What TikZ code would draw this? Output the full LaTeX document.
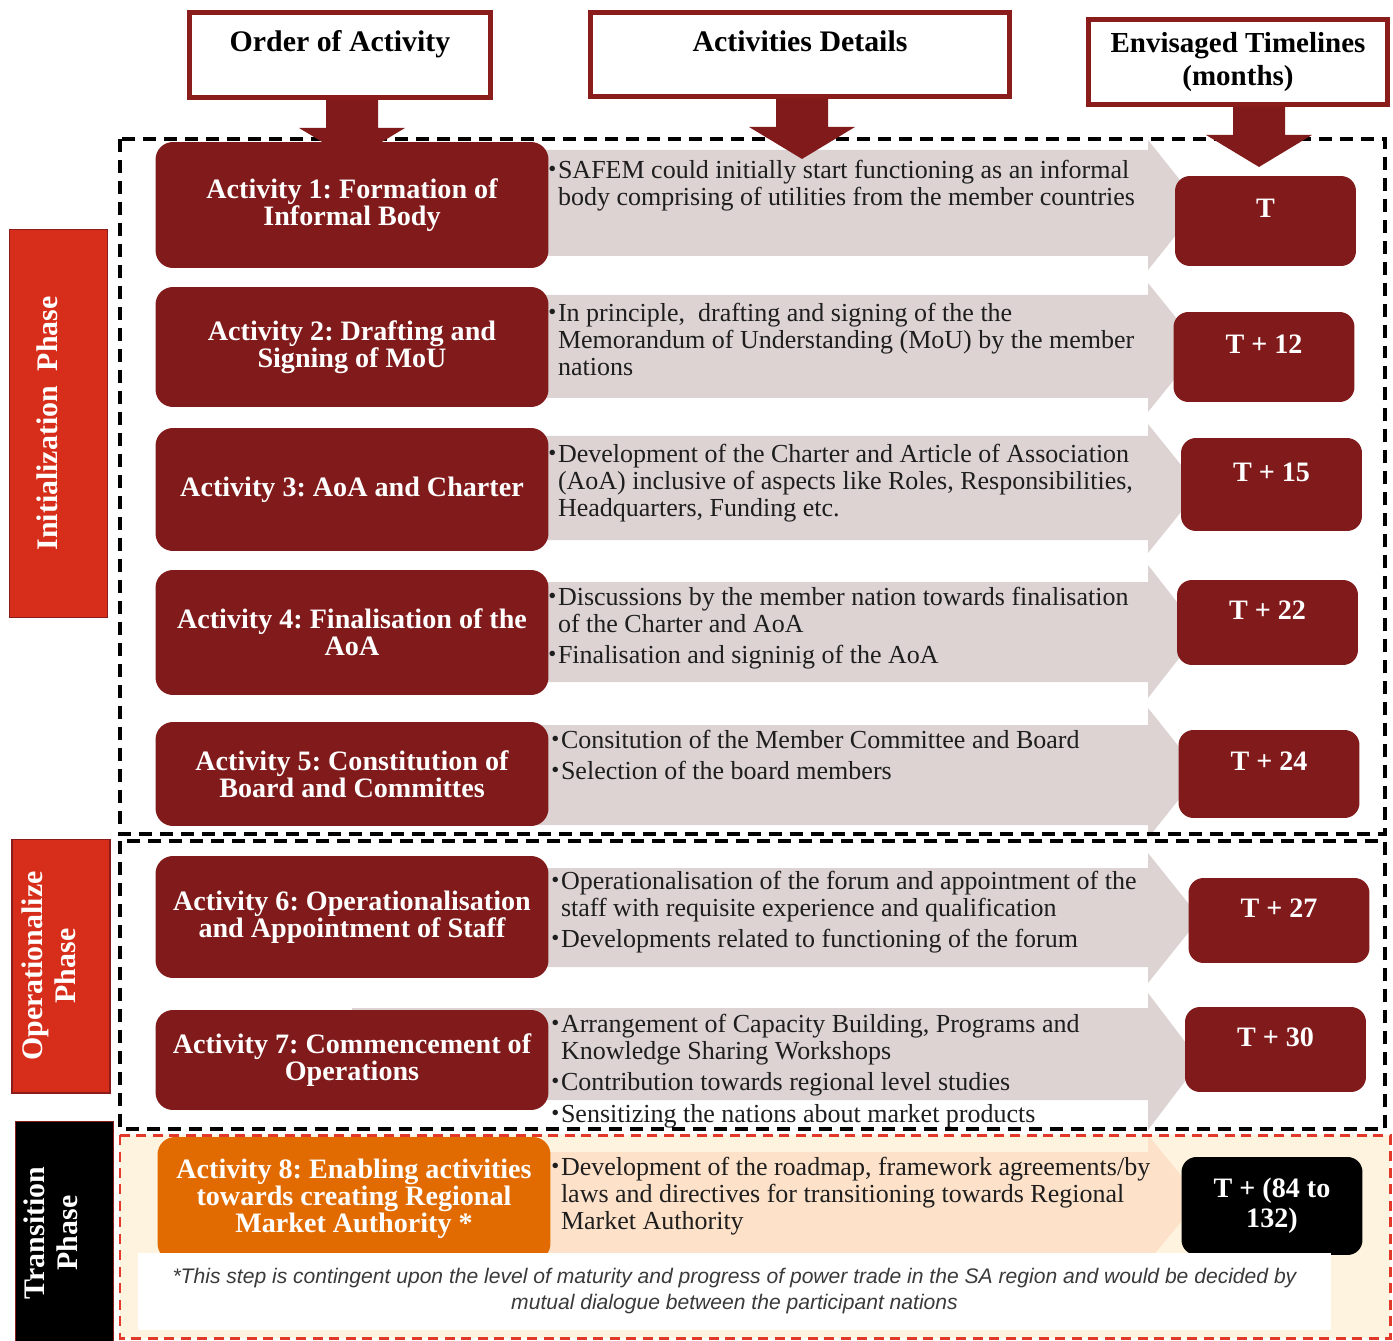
\documentclass[tikz,border=0pt]{standalone}
\usepackage{fontspec}
\setmainfont{Liberation Serif}
\newfontfamily\notefont{Liberation Sans}
\frenchspacing

\definecolor{darkred}{HTML}{811A1A}
\definecolor{hdred}{HTML}{8B1C1C}
\definecolor{phred}{HTML}{D72E1B}
\definecolor{detgray}{HTML}{DDD3D3}
\definecolor{cream}{HTML}{FEF3DE}
\definecolor{peach}{HTML}{FDE1C9}
\definecolor{actorange}{HTML}{E16B00}
\definecolor{framered}{HTML}{E2382A}
\definecolor{notegray}{HTML}{3A3A3A}
\definecolor{textdark}{HTML}{1E1E1E}

\newcommand{\itm}{\makebox[5.5pt][l]{\raisebox{1pt}{\fontsize{13}{13}\selectfont\textbullet}}}
\newcommand{\cnt}{\hspace*{5.5pt}}

\pgfdeclarelayer{background}
\pgfsetlayers{background,main}

\tikzset{
    headbox/.style={draw=hdred, line width=2.8pt, fill=white, minimum height=1.7cm,
        align=center, text=black, font=\fontsize{17}{19}\selectfont\bfseries},
    actbox/.style={fill=darkred, rounded corners=0.35cm, minimum width=7.86cm,
        align=center, inner sep=2pt, text=white, font=\fontsize{16}{15.4}\selectfont\bfseries},
    timebox/.style={fill=darkred, rounded corners=0.3cm, minimum width=3.62cm, minimum height=1.8cm,
        align=center, text depth=0.5cm, text=white, font=\fontsize{16}{17}\selectfont\bfseries},
    detail/.style={anchor=north west, align=left, inner sep=0pt, text=textdark,
        font=\fontsize{14.8}{15.4}\selectfont},
    phasebox/.style={draw=hdred, line width=0.6pt, rotate=90, minimum height=1.96cm,
        align=center, text depth=0.45cm, text=white, font=\fontsize{17}{18.5}\selectfont\bfseries},
    frame/.style={dash pattern=on 0.26cm off 0.16cm, line width=2.1pt},
    notebox/.style={fill=white, minimum width=23.86cm, minimum height=1.54cm, align=center,
        text=notegray, font=\notefont\itshape\fontsize{12}{14.8}\selectfont}
}

\begin{document}
\begin{tikzpicture}[x=0.02cm, y=-0.02cm]
    \useasboundingbox (0,0) rectangle (1393,1341);

    % activities
    \node[actbox, minimum height=2.52cm] (act1) at (352,205) {Activity 1: Formation of\\Informal Body};
    \node[actbox, minimum height=2.4cm] (act2) at (352,347) {Activity 2: Drafting and\\Signing of MoU};
    \node[actbox, minimum height=2.46cm] (act3) at (352,489.5) {Activity 3: AoA and Charter};
    \node[actbox, minimum height=2.5cm] (act4) at (352,632.5) {Activity 4: Finalisation of the\\AoA};
    \node[actbox, minimum height=2.08cm] (act5) at (352,774) {Activity 5: Constitution of\\Board and Committes};
    \node[actbox, minimum height=2.44cm] (act6) at (352,917) {Activity 6: Operationalisation\\and Appointment of Staff};
    \node[actbox, minimum height=2.0cm] (act7) at (352,1060) {Activity 7: Commencement of\\Operations};
    \node[actbox, fill=actorange, minimum height=2.48cm] (act8) at (354,1199) {Activity 8: Enabling activities\\towards creating Regional\\Market Authority *};

    % timelines
    \node[timebox] (time1) at (1265.5,221) {T};
    \node[timebox] (time2) at (1264,357) {T + 12};
    \node[timebox, minimum height=1.86cm] (time3) at (1271.5,484.5) {T + 15};
    \node[timebox, minimum height=1.7cm] (time4) at (1267.5,622.5) {T + 22};
    \node[timebox, minimum height=1.76cm] (time5) at (1269,774) {T + 24};
    \node[timebox, minimum height=1.7cm] (time6) at (1279,920.5) {T + 27};
    \node[timebox, minimum height=1.7cm] (time7) at (1275.5,1049.5) {T + 30};
    \node[timebox, fill=black, minimum height=1.96cm, text depth=0.14cm] (time8) at (1272,1206) {T + (84 to\\132)};

    \begin{pgfonlayer}{background}
        \fill[white] (0,0) rectangle (1393,1341);
        \fill[cream] (120,1135) rectangle (1390,1338);
        % detail arrows
        \foreach \i/\a/\b/\ha/\hb/\c in {1/150/256/140/270/detgray, 2/295/398/283/412/detgray,
                3/436/540/424/553/detgray, 4/582/682/565/698/detgray, 5/725/825/708/838/detgray,
                6/868/967/853/983/detgray, 7/1008/1100/993/1130/detgray, 8/1152/1253/1135/1262/peach}
            \fill[\c] (act\i.center |- 0,\a) -- (1148,\a) -- (1148,\ha) -- (1200,{(\ha+\hb)/2})
                -- (1148,\hb) -- (1148,\b) -- (act\i.center |- 0,\b) -- cycle;
    \end{pgfonlayer}

    % details
    \node[detail] (det1) at (548,160) {\itm SAFEM could initially start functioning as an informal\\
        \cnt body comprising of utilities from the member countries};
    \node[detail] (det2) at (548,303) {\itm In principle,\ \ drafting and signing of the the\\
        \cnt Memorandum of Understanding (MoU) by the member\\ \cnt nations};
    \node[detail] (det3) at (548,444) {\itm Development of the Charter and Article of Association\\
        \cnt (AoA) inclusive of aspects like Roles, Responsibilities,\\ \cnt Headquarters, Funding etc.};
    \node[detail] (det4) at (548,587) {\itm Discussions by the member nation towards finalisation\\
        \cnt of the Charter and AoA\\[2pt] \itm Finalisation and signinig of the AoA};
    \node[detail] (det5) at (551,730) {\itm Consitution of the Member Committee and Board\\[2pt]
        \itm Selection of the board members};
    \node[detail] (det6) at (551,871) {\itm Operationalisation of the forum and appointment of the\\
        \cnt staff with requisite experience and qualification\\[2pt]
        \itm Developments related to functioning of the forum};
    \node[detail] (det7) at (551,1014) {\itm Arrangement of Capacity Building, Programs and\\
        \cnt Knowledge Sharing Workshops\\[2pt] \itm Contribution towards regional level studies\\[3pt]
        \itm Sensitizing the nations about market products};
    \node[detail] (det8) at (551,1157) {\itm Development of the roadmap, framework agreements/by\\
        \cnt laws and directives for transitioning towards Regional\\ \cnt Market Authority};

    % phase frames
    \draw[frame] (120,139) rectangle (1385,834);
    \draw[frame] (120,841) rectangle (1385,1129);
    \draw[framered, dash pattern=on 0.2cm off 0.13cm, line width=1.7pt] (120,1135) rectangle (1390,1338);

    \node[notebox] (note) at (734.5,1291.5) {*This step is contingent upon the level of maturity and progress of power trade in the SA region and would be decided by\\
        mutual dialogue between the participant nations};

    % headers
    \node[headbox, minimum width=6.02cm, text depth=0.55cm] (hOrder) at (340,55) {Order of Activity};
    \node[headbox, minimum width=8.38cm, minimum height=1.68cm, text depth=0.55cm] (hDet) at (800,54.5) {Activities Details};
    \node[headbox, minimum width=5.98cm, font=\fontsize{16.5}{18.5}\selectfont\bfseries] (hTime) at (1238,62) {Envisaged Timelines\\(months)};

    \fill[darkred] (act1.north |- hOrder.south) ++(-26,0) -- ++(52,0) -- ++(0,28) -- ++(27,0) -- ++(-53,32) -- ++(-53,-32) -- ++(27,0) -- cycle;
    \fill[darkred] (hDet.south) ++(-24,0) -- ++(52,0) -- ++(0,28) -- ++(27,0) -- ++(-53,32) -- ++(-53,-32) -- ++(27,0) -- cycle;
    \fill[darkred] ([xshift=0.42cm]hTime.south) ++(-26,0) -- ++(52,0) -- ++(0,28) -- ++(27,0) -- ++(-53,32) -- ++(-53,-32) -- ++(27,0) -- cycle;

    % phases
    \node[phasebox, fill=phred, minimum width=7.78cm] (pInit) at (58.5,423.5) {Initialization\ \ Phase};
    \node[phasebox, fill=phred, minimum width=5.08cm, text depth=0.5cm] (pOper) at (61,966) {Operationalize\\Phase};
    \node[phasebox, fill=black, minimum width=4.48cm, text depth=0.55cm] (pTrans) at (64.5,1233) {Transition\\Phase};
\end{tikzpicture}
\end{document}
